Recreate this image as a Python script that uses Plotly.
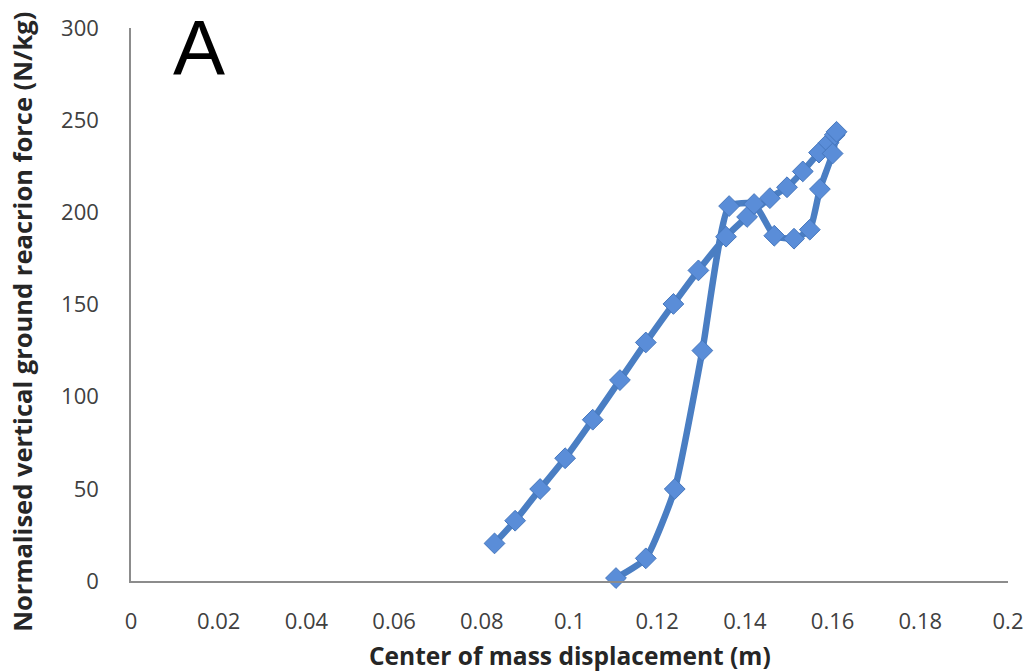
import plotly.graph_objects as go

# Centre-of-mass displacement (m) and normalised vertical GRF (N/kg):
# loading phase followed by unloading phase, one continuous loop.
displacement = [
    0.0829, 0.0876, 0.0933, 0.0990, 0.1053, 0.1115, 0.1174, 0.1237, 0.1294,
    0.1357, 0.1405, 0.1457, 0.1496, 0.1532, 0.1569, 0.1591, 0.1605, 0.1609,
    0.1600, 0.1571, 0.1548, 0.1512, 0.1467, 0.1421, 0.1364, 0.1303, 0.1240,
    0.1174, 0.1106,
]
force = [
    20.4, 32.7, 49.9, 66.6, 87.5, 109.0, 129.4, 150.3, 168.5,
    186.8, 197.5, 207.7, 213.6, 222.2, 232.4, 237.8, 242.0, 243.7,
    231.9, 212.6, 190.6, 185.7, 187.3, 204.5, 203.4, 125.0, 49.9,
    12.3, 1.6,
]

x_ticks = [0, 0.02, 0.04, 0.06, 0.08, 0.1, 0.12, 0.14, 0.16, 0.18, 0.2]
x_tick_text = ["0", "0.02", "0.04", "0.06", "0.08", "0.1", "0.12", "0.14", "0.16", "0.18", "0.2"]
y_ticks = [0, 50, 100, 150, 200, 250, 300]
y_tick_text = ["0", "50", "100", "150", "200", "250", "300"]

x_title = "Center of mass displacement (m)"
y_title = "Normalised vertical ground reacrion force (N/kg)"
panel_label = "A"

LINE = "#4A7EC3"
MARK = "#5A8DD8"
TICK_FONT = dict(family="Open Sans", size=22, color="#404040")
X_TITLE_FONT = dict(family="Open Sans", size=24.5, color="#262626", weight="bold")
Y_TITLE_FONT = dict(family="Open Sans", size=25.5, color="#262626", weight="bold")

fig = go.Figure()
fig.add_trace(go.Scatter(
    x=displacement,
    y=force,
    mode="lines+markers",
    line=dict(color=LINE, width=6.5, shape="spline", smoothing=0.5),
    marker=dict(symbol="diamond", size=16, color=MARK,
                line=dict(color="#4677BD", width=1)),
    cliponaxis=False,
    showlegend=False,
))

fig.update_xaxes(
    range=[0, 0.2],
    tickvals=x_ticks,
    ticktext=x_tick_text,
    tickfont=TICK_FONT,
    ticks="",
    ticklabelstandoff=20,
    showgrid=False,
    zeroline=False,
    showline=True,
    linecolor="#8C8C8C",
    linewidth=1.5,
)
fig.update_yaxes(
    range=[0, 300],
    tickvals=y_ticks,
    ticktext=y_tick_text,
    tickfont=TICK_FONT,
    ticks="",
    ticklabelstandoff=26,
    showgrid=False,
    zeroline=False,
    showline=True,
    linecolor="#8C8C8C",
    linewidth=1.5,
)

fig.add_annotation(
    text=x_title, xref="paper", yref="paper", x=0.5, y=-0.134,
    xanchor="center", yanchor="middle", showarrow=False, font=X_TITLE_FONT,
)
fig.add_annotation(
    text=y_title, xref="paper", yref="paper", x=-0.1237, y=0.468,
    xanchor="center", yanchor="middle", textangle=-90, showarrow=False,
    font=Y_TITLE_FONT,
)
fig.add_annotation(
    text=panel_label, xref="paper", yref="paper", x=0.0772, y=0.963,
    xanchor="center", yanchor="middle", showarrow=False,
    font=dict(family="Liberation Sans", size=78, color="#000000"),
)

fig.update_layout(
    width=1035,
    height=672,
    margin=dict(l=131, r=23, t=22, b=91),
    paper_bgcolor="white",
    plot_bgcolor="white",
)

fig.write_html("out.html")
